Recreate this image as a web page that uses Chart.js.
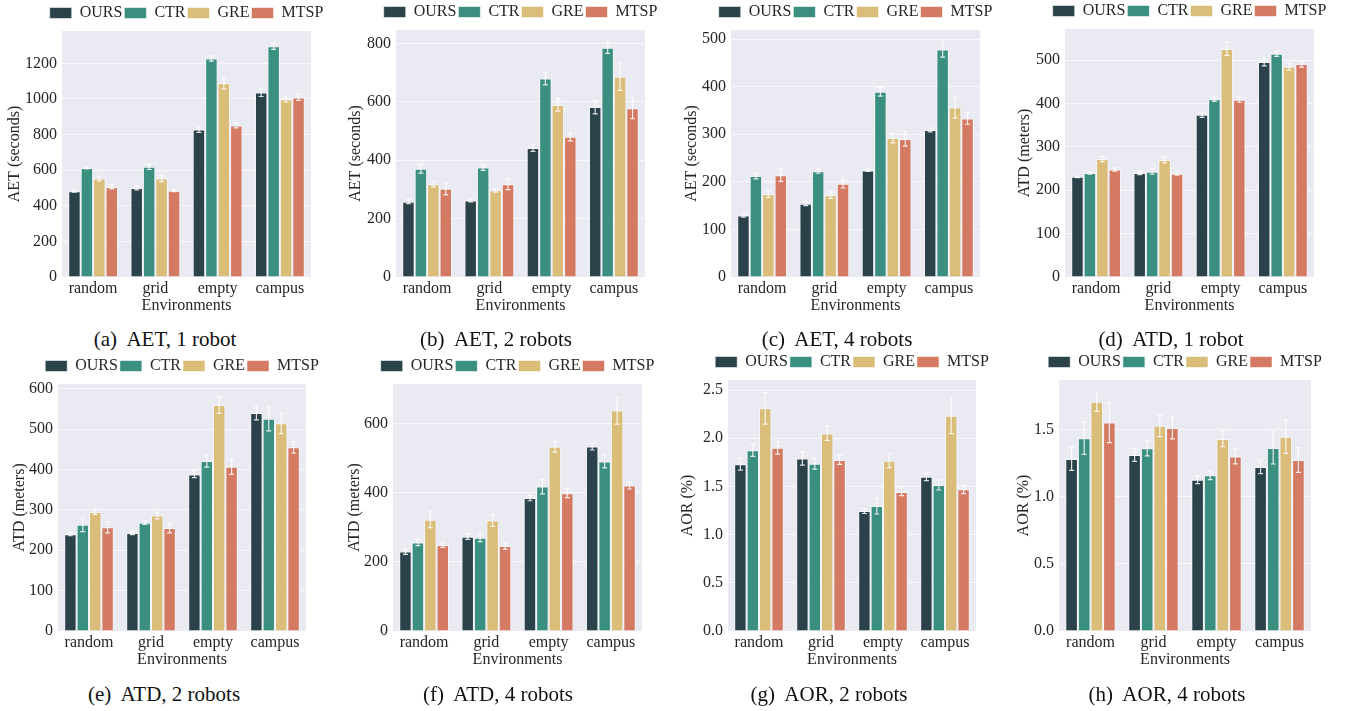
<!DOCTYPE html>
<html>
<head>
<meta charset="utf-8">
<script src="https://cdn.jsdelivr.net/npm/chart.js@4.4.1/dist/chart.umd.min.js"></script>
<style>
  body { margin: 0; background: #fff; width: 1346px; height: 711px; overflow: hidden; position: relative;
         font-family: 'Liberation Serif', 'Times New Roman', serif; }
  canvas { position: absolute; }
  .cap { position: absolute; font-size: 21px; line-height: 24px; color: #111; white-space: nowrap;
         transform: translateX(-50%); }
</style>
</head>
<body>
<script>
const envs = ['random', 'grid', 'empty', 'campus'];
const methods = ['OURS', 'CTR', 'GRE', 'MTSP'];
const colors = ['#2b424b', '#3a8f80', '#dabd78', '#d57a62'];

// rows: OURS, CTR, GRE, MTSP ; columns: random, grid, empty, campus
const aet1 = [[482, 500, 829, 1037], [613, 619, 1228, 1296], [553, 553, 1088, 999], [506, 484, 851, 1009]];
const aet1Err = [[6, 10, 17, 23], [6, 15, 15, 17], [13, 17, 33, 16], [11, 5, 13, 17]];
const aet2 = [[258, 262, 442, 582], [371, 375, 680, 785], [318, 297, 589, 686], [302, 318, 480, 578]];
const aet2Err = [[7, 5, 12, 23], [15, 10, 22, 19], [9, 6, 21, 47], [21, 19, 14, 36]];
const aet4 = [[129, 154, 224, 309], [212, 222, 389, 478], [174, 172, 292, 356], [214, 196, 290, 333]];
const aet4Err = [[3, 4, 2, 4], [6, 4, 9, 16], [7, 7, 10, 22], [13, 9, 15, 12]];
const atd1 = [[231, 240, 374, 496], [240, 243, 410, 515], [272, 270, 526, 485], [248, 238, 409, 491]];
const atd1Err = [[2, 4, 6, 9], [3, 6, 5, 6], [6, 7, 15, 8], [4, 3, 6, 7]];
const atd2 = [[240, 243, 388, 540], [263, 268, 421, 526], [295, 286, 560, 515], [257, 255, 407, 455]];
const atd2Err = [[4, 4, 8, 17], [17, 4, 15, 30], [6, 8, 21, 26], [14, 12, 19, 14]];
const atd4 = [[230, 273, 385, 534], [256, 270, 418, 491], [322, 320, 533, 638], [249, 246, 399, 421]];
const atd4Err = [[8, 8, 8, 10], [9, 11, 21, 19], [23, 17, 15, 39], [7, 10, 13, 10]];
const aor2 = [[1.73, 1.79, 1.245, 1.60], [1.875, 1.735, 1.297, 1.515], [2.31, 2.05, 1.767, 2.234], [1.90, 1.775, 1.442, 1.47]];
const aor2Err = [[0.06, 0.07, 0.026, 0.04], [0.064, 0.055, 0.083, 0.052], [0.164, 0.073, 0.073, 0.187], [0.064, 0.047, 0.038, 0.045]];
const aor4 = [[1.284, 1.313, 1.129, 1.224], [1.438, 1.363, 1.162, 1.366], [1.711, 1.532, 1.433, 1.450], [1.555, 1.515, 1.303, 1.276]];
const aor4Err = [[0.086, 0.047, 0.03, 0.05], [0.12, 0.056, 0.032, 0.12], [0.072, 0.081, 0.057, 0.124], [0.15, 0.082, 0.056, 0.093]];

const ticksAet1 = [0, 200, 400, 600, 800, 1000, 1200];
const ticksAet2 = [0, 200, 400, 600, 800];
const ticksAet4 = [0, 100, 200, 300, 400, 500];
const ticksAtd1 = [0, 100, 200, 300, 400, 500];
const ticksAtd2 = [0, 100, 200, 300, 400, 500, 600];
const ticksAtd4 = [0, 200, 400, 600];
const ticksAor2 = [0, 0.5, 1.0, 1.5, 2.0, 2.5];
const ticksAor4 = [0, 0.5, 1.0, 1.5];

const FONT = "'Liberation Serif', 'Times New Roman', serif";
const TXT = '#262626';

// layout: plot box (L,R,T,B), y title centre tx, caption centre (cx, cy)
const panels = [
  { data: aet1, err: aet1Err, ticks: ticksAet1, max: 1382, dec: 0, yTitle: 'AET (seconds)', caption: '(a)\u00a0 AET, 1 robot',
    L: 62, R: 311, T: 31, B: 277, tx: 15, cx: 165, cy: 339 },
  { data: aet2, err: aet2Err, ticks: ticksAet2, max: 846, dec: 0, yTitle: 'AET (seconds)', caption: '(b)\u00a0 AET, 2 robots',
    L: 396, R: 645, T: 30, B: 277, tx: 356, cx: 496, cy: 339 },
  { data: aet4, err: aet4Err, ticks: ticksAet4, max: 519, dec: 0, yTitle: 'AET (seconds)', caption: '(c)\u00a0 AET, 4 robots',
    L: 731, R: 980, T: 30, B: 277, tx: 692, cx: 837, cy: 339 },
  { data: atd1, err: atd1Err, ticks: ticksAtd1, max: 572, dec: 0, yTitle: 'ATD (meters)', caption: '(d)\u00a0 ATD, 1 robot',
    L: 1065, R: 1314, T: 29, B: 277, tx: 1025, cx: 1171, cy: 339 },
  { data: atd2, err: atd2Err, ticks: ticksAtd2, max: 612, dec: 0, yTitle: 'ATD (meters)', caption: '(e)\u00a0 ATD, 2 robots',
    L: 58, R: 306, T: 384, B: 631, tx: 20, cx: 164, cy: 694 },
  { data: atd4, err: atd4Err, ticks: ticksAtd4, max: 715, dec: 0, yTitle: 'ATD (meters)', caption: '(f)\u00a0 ATD, 4 robots',
    L: 393, R: 642, T: 384, B: 631, tx: 355, cx: 498, cy: 694 },
  { data: aor2, err: aor2Err, ticks: ticksAor2, max: 2.604, dec: 1, yTitle: 'AOR (%)', caption: '(g)\u00a0 AOR, 2 robots',
    L: 728, R: 976, T: 380, B: 631, tx: 688, cx: 829, cy: 694 },
  { data: aor4, err: aor4Err, ticks: ticksAor4, max: 1.873, dec: 1, yTitle: 'AOR (%)', caption: '(h)\u00a0 AOR, 4 robots',
    L: 1059, R: 1311, T: 380, B: 631, tx: 1024, cx: 1167, cy: 694 }
];

const bgPlugin = {
  id: 'bg',
  beforeDraw(chart) {
    const { ctx, chartArea: a } = chart;
    ctx.save();
    ctx.fillStyle = '#eaeaf2';
    ctx.fillRect(a.left, a.top, a.right - a.left, a.bottom - a.top);
    ctx.restore();
  }
};

const errPlugin = {
  id: 'errbars',
  afterDatasetsDraw(chart) {
    const ctx = chart.ctx;
    const ys = chart.scales.y;
    chart.data.datasets.forEach((ds, i) => {
      chart.getDatasetMeta(i).data.forEach((bar, j) => {
        const lo = ys.getPixelForValue(ds.data[j] - ds.err[j]);
        const hi = ys.getPixelForValue(ds.data[j] + ds.err[j]);
        ctx.save();
        ctx.strokeStyle = 'rgba(255,255,255,0.85)';
        ctx.lineWidth = 1.2;
        ctx.beginPath();
        ctx.moveTo(bar.x, lo); ctx.lineTo(bar.x, hi);
        ctx.moveTo(bar.x - 2.5, lo); ctx.lineTo(bar.x + 2.5, lo);
        ctx.moveTo(bar.x - 2.5, hi); ctx.lineTo(bar.x + 2.5, hi);
        ctx.stroke();
        ctx.restore();
      });
    });
  }
};

function makePanel(p) {
  const left = Math.round(p.tx - 9.6);
  const yw = p.L - left;
  const w = (p.R - p.L) + 2 * yw;
  const top = p.T - 31;
  const h = (p.B - p.T) + 31 + 40;

  const cv = document.createElement('canvas');
  cv.width = w;
  cv.height = h;
  cv.style.left = left + 'px';
  cv.style.top = top + 'px';
  document.body.appendChild(cv);

  new Chart(cv, {
    type: 'bar',
    data: {
      labels: envs,
      datasets: methods.map((m, i) => ({
        label: m,
        data: p.data[i],
        err: p.err[i],
        backgroundColor: colors[i],
        borderColor: 'rgba(255,255,255,0.55)',
        borderWidth: 1,
        categoryPercentage: 0.8,
        barPercentage: 1.0
      }))
    },
    options: {
      responsive: false,
      animation: false,
      layout: { padding: { top: 3, bottom: 2, left: 0, right: 0 } },
      plugins: {
        legend: {
          position: 'top',
          labels: { font: { family: FONT, size: 16 }, color: TXT, boxWidth: 22, boxHeight: 11, padding: 2 }
        },
        tooltip: { enabled: false }
      },
      scales: {
        x: {
          grid: { display: false, drawTicks: false },
          border: { display: false },
          ticks: { font: { family: FONT, size: 16 }, color: TXT, padding: 2 },
          title: { display: true, text: 'Environments', font: { family: FONT, size: 16 }, color: TXT, padding: 0 },
          afterFit(s) { s.height = 38; }
        },
        y: {
          min: 0,
          max: p.max,
          grid: { color: 'rgba(255,255,255,0.7)', lineWidth: 1, drawTicks: false },
          border: { display: false },
          ticks: {
            font: { family: FONT, size: 16 }, color: TXT, padding: 5,
            callback: v => Number(v).toFixed(p.dec)
          },
          afterBuildTicks(s) { s.ticks = p.ticks.map(v => ({ value: v })); },
          title: { display: true, text: p.yTitle, font: { family: FONT, size: 16 }, color: TXT, padding: 0 },
          afterFit(s) { s.width = yw; }
        },
        y2: {
          type: 'linear',
          position: 'right',
          grid: { display: false },
          border: { display: false },
          ticks: { display: false },
          afterFit(s) { s.width = yw; }
        }
      }
    },
    plugins: [bgPlugin, errPlugin]
  });

  const cap = document.createElement('div');
  cap.className = 'cap';
  cap.textContent = p.caption;
  cap.style.left = p.cx + 'px';
  cap.style.top = (p.cy - 12) + 'px';
  document.body.appendChild(cap);
}

panels.forEach(makePanel);
</script>
</body>
</html>
